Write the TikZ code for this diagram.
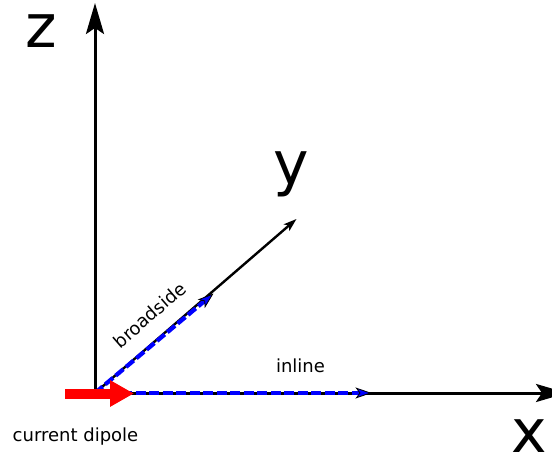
\documentclass[tikz,border=0pt]{standalone}
\usepackage{fontspec}
\setmainfont{DejaVu Sans}
\usetikzlibrary{arrows.meta}
\begin{document}
\begin{tikzpicture}[x=1pt,y=-1pt,
  axis/.style={black, line width=3pt, -{Stealth[length=31pt,width=18pt,inset=6pt]}},
  yaxis/.style={black, line width=2.4pt, -{Stealth[length=13pt,width=8.5pt,inset=3pt]}},
  bluedash/.style={blue, line width=4.2pt, dash pattern=on 10pt off 3.5pt,
    -{Stealth[length=16pt,width=11pt,inset=4pt,color=black,fill=blue,line width=0.8pt]}},
  bigl/.style={font=\fontsize{60}{60}\selectfont, anchor=base, inner sep=0pt},
  smalll/.style={font=\fontsize{18}{18}\selectfont, anchor=base, inner sep=0pt}]
\clip (0,0) rectangle (552,457);
\coordinate (O) at (95,393);
\coordinate (ztip) at (95,3);
\coordinate (xtip) at (567,393);
\coordinate (ytip) at (296.5,219);
\coordinate (bx) at (371.5,393);
\coordinate (by) at (213.5,293.5);
\coordinate (r0) at (65,393.5);
\coordinate (r1) at (134,393.5);
% axes
\draw[axis] (O) -- (ztip);
\draw[axis] (O) -- (xtip);
\draw[yaxis] (O) -- (ytip);
% blue dashed
\draw[bluedash] (O) -- (bx);
\draw[bluedash] (O) -- (by);
% red dipole
\draw[red, line width=10pt, -{Triangle[length=24pt,width=25pt]}] (r0) -- (r1);
% labels
\node[bigl] (lz) at (41,48) {z};
\node[bigl] (ly) at (291,185) {y};
\node[bigl] (lx) at (529.5,452) {x};
\node[smalll] (lin) at (300.5,372) {inline};
\node[smalll] (lcd) at (75.5,441.5) {current dipole};
\node[font=\fontsize{18}{18}\selectfont, inner sep=0pt, rotate=41] (lbs) at (149.5,315) {broadside};
\end{tikzpicture}
\end{document}
